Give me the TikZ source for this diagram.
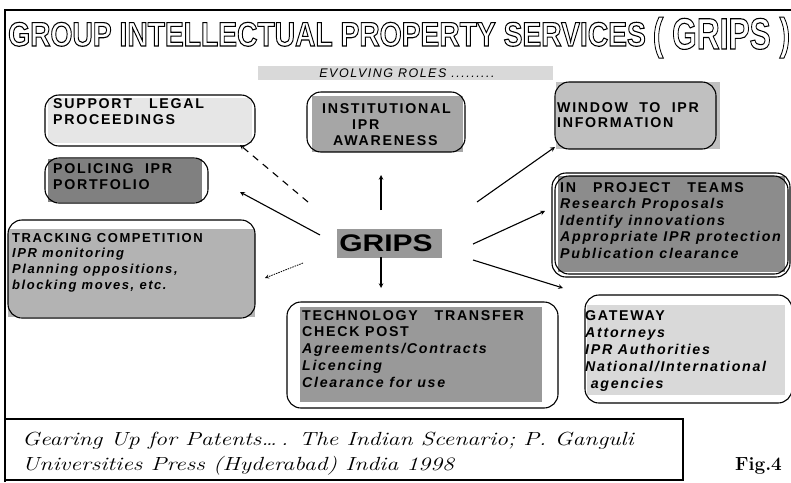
\documentclass[tikz,border=0pt]{standalone}
\usepackage{fontspec}
\newfontfamily\boxfont{Liberation Sans}[LetterSpace=12]
\newfontfamily\headfont{Liberation Sans}

\definecolor{palegrey}{HTML}{E6E6E6}
\definecolor{lightgrey}{HTML}{D9D9D9}
\definecolor{silvergrey}{HTML}{C0C0C0}
\definecolor{midgrey}{HTML}{B3B3B3}
\definecolor{stonegrey}{HTML}{A6A6A6}
\definecolor{darkgrey}{HTML}{999999}
\definecolor{slategrey}{HTML}{8C8C8C}
\definecolor{leadgrey}{HTML}{808080}

\tikzset{
    boxline/.style={black, line width=1.1pt, rounded corners=14pt},
    boxtext/.style={anchor=north west, align=left, inner sep=0pt,
        font=\boxfont\bfseries\fontsize{14.2}{16.5}\selectfont},
    headline/.style={anchor=base west, inner sep=0pt, font=\headfont\bfseries},
    role/.style={->, line width=1.1pt},
}

% fill colour, fill corners, outline corners
\newcommand{\gripsbox}[5]{
    \fill[#1] (#2) rectangle (#3);
    \draw[boxline] (#4) rectangle (#5);
}

% white letters with a black edge
\newcommand{\hollow}[1]{\special{pdf:literal direct 2 Tr 1.1 w 0 G 1 g}#1\special{pdf:literal direct 0 Tr 0 g}}

\newcommand{\headtext}{%
    \scalebox{0.83}[1]{\fontsize{34}{34}\selectfont\hollow{GROUP INTELLECTUAL PROPERTY SERVICES}}%
    \hspace{7pt}\raisebox{-3pt}{\scalebox{0.72}[1]{\fontsize{44}{44}\selectfont\hollow{( GRIPS )}}}}

\begin{document}
\begin{tikzpicture}[x=1pt, y=-1pt, >=stealth]
    \useasboundingbox (0,0) rectangle (791,482);

    % frame and heading
    \draw[line width=1.5pt] (5,482) -- (5,10) -- (791,10);
    \node[headline] (head) at (8,46) {\headtext};

    \fill[lightgrey] (258,66) rectangle (553,80);
    \node[inner sep=0pt, font=\boxfont\itshape\fontsize{12.5}{12.5}\selectfont] (roles) at (407,73) {EVOLVING ROLES .........};

    % the roles round GRIPS
    \gripsbox{palegrey}{48,98}{252,143}{45,95}{255,146}
    \node[boxtext] (legal) at (53,98) {SUPPORT\ \ \ LEGAL\\PROCEEDINGS};

    \gripsbox{leadgrey}{48,159}{202,202}{45,158}{208,203}
    \node[boxtext] (policing) at (53,163) {POLICING\ \ IPR\\PORTFOLIO};

    \gripsbox{stonegrey}{312,96}{463,152}{307,92}{465,152}
    \node[boxtext, font=\boxfont\bfseries\fontsize{14.2}{16}\selectfont] (awareness) at (322,103)
        {INSTITUTIONAL\\\hspace*{30pt}IPR\\\hspace*{11pt}AWARENESS};

    \gripsbox{silvergrey}{556,82}{720,149}{555,82}{716,149}
    \node[boxtext, font=\boxfont\bfseries\fontsize{14.2}{15.5}\selectfont] (window) at (557,102) {WINDOW\ \ TO\ \ IPR\\INFORMATION};

    \gripsbox{slategrey}{558,176}{785,272}{552,173}{790,277}
    \draw[boxline] (555,176) rectangle (788,274);
    \node[boxtext] (teams) at (560,182) {IN\ \ \ PROJECT\ \ \ TEAMS\\
        \itshape Research Proposals\\\itshape Identify innovations\\
        \itshape Appropriate IPR protection\\\itshape Publication clearance};

    \gripsbox{midgrey}{8,229}{255,317}{8,220}{255,318}
    \node[boxtext, font=\boxfont\bfseries\fontsize{13}{15.7}\selectfont] (tracking) at (12,233) {TRACKING COMPETITION\\
        \itshape IPR monitoring\\\itshape Planning oppositions,\\\itshape blocking moves, etc.};

    \gripsbox{darkgrey}{300,307}{542,402}{287,302}{558,408}
    \node[boxtext, font=\boxfont\bfseries\fontsize{14.2}{16.75}\selectfont] (transfer) at (302,310) {TECHNOLOGY\ \ \ TRANSFER\\CHECK POST\\
        \itshape Agreements/Contracts\\\itshape Licencing\\\itshape Clearance for use};

    \gripsbox{lightgrey}{587,305}{785,395}{585,295}{792,403}
    \node[boxtext, font=\boxfont\bfseries\fontsize{14.2}{17}\selectfont] (gateway) at (585,310) {GATEWAY\\
        \itshape Attorneys\\\itshape IPR Authorities\\\itshape National/International\\\itshape\ agencies};

    \fill[darkgrey] (337,229) rectangle (442,258);
    \node[inner sep=0pt, font=\headfont\bfseries\fontsize{24}{24}\selectfont] (grips) at (386,243) {\scalebox{1.25}[1]{GRIPS}};

    % arrows out of GRIPS
    \coordinate (up tail) at (381,210);        \coordinate (up head) at (381,175);
    \coordinate (down tail) at (381,257);      \coordinate (down head) at (381,288);
    \coordinate (policing tail) at (320,235);  \coordinate (policing head) at (240,192);
    \coordinate (legal tail) at (308,202);     \coordinate (legal head) at (240,145);
    \coordinate (tracking tail) at (303,263);  \coordinate (tracking head) at (265,278);
    \coordinate (window tail) at (477,202);    \coordinate (window head) at (555,147);
    \coordinate (teams tail) at (473,244);     \coordinate (teams head) at (545,211);
    \coordinate (gateway tail) at (473,260);   \coordinate (gateway head) at (563,288);

    \draw[role] (up tail) -- (up head);
    \draw[role] (down tail) -- (down head);
    \draw[role] (policing tail) -- (policing head);
    \draw[role, dash pattern=on 7pt off 6pt] (legal tail) -- (legal head);
    \draw[role, line width=0.8pt, dash pattern=on 1.5pt off 1pt] (tracking tail) -- (tracking head);
    \draw[role] (window tail) -- (window head);
    \draw[role] (teams tail) -- (teams head);
    \draw[role] (gateway tail) -- (gateway head);

    % source of the figure
    \draw[line width=1.2pt] (5,419) rectangle (683,480);
    \node[anchor=north west, align=left, inner sep=0pt, font=\itshape\fontsize{19}{25}\selectfont] (source) at (22,432)
        {\scalebox{1.25}[1]{Gearing Up for Patents\ldots\,. The Indian Scenario; P. Ganguli}\\
         \scalebox{1.25}[1]{Universities Press (Hyderabad) India 1998}};
    \node[anchor=base west, inner sep=0pt, font=\bfseries\fontsize{19}{19}\selectfont] (fig) at (735,470) {Fig.4};
\end{tikzpicture}
\end{document}
